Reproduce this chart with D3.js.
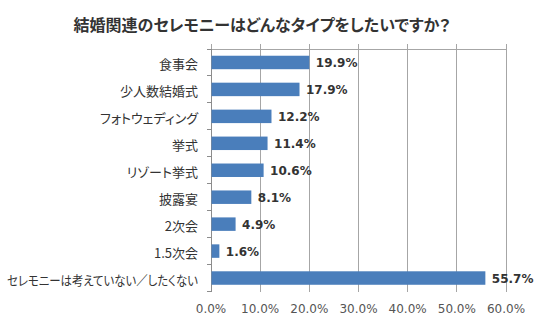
<!DOCTYPE html>
<html><head><meta charset="utf-8">
<script src="https://cdn.jsdelivr.net/npm/d3@7"></script>
<style>
body{margin:0;background:#fff;}
svg{display:block;}
.jp{font-family:"Noto Sans CJK JP","Noto Sans",sans-serif;font-feature-settings:"palt";}
</style>
</head><body>
<svg id="chart" width="536" height="322"></svg>
<script>
const categories = ["食事会","少人数結婚式","フォトウェディング","挙式","リゾート挙式","披露宴","2次会","1.5次会","セレモニーは考えていない／したくない"];
const values = [19.9,17.9,12.2,11.4,10.6,8.1,4.9,1.6,55.7];
const tickValues = [0,10,20,30,40,50,60];
const title = "結婚関連のセレモニーはどんなタイプをしたいですか？";

const svg = d3.select("#chart");
const x = d3.scaleLinear().domain([0,60]).range([211,506]);
const y = d3.scaleBand().domain(categories).range([49,291.5]).paddingInner(0.5).paddingOuter(0.25);

// title
svg.append("text").attr("class","jp")
  .attr("x",262).attr("y",31).attr("text-anchor","middle")
  .attr("font-size",16).attr("font-weight","bold").attr("fill","#333")
  .text(title);

// gridlines
svg.append("g").selectAll("line").data(tickValues).join("line")
  .attr("x1",d=>x(d)).attr("x2",d=>x(d))
  .attr("y1",44).attr("y2",291.5)
  .attr("stroke","#a6a6a6").attr("stroke-width",1).attr("shape-rendering","crispEdges");

// top axis line
svg.append("line").attr("x1",x(0)).attr("x2",x(60)).attr("y1",49).attr("y2",49)
  .attr("stroke","#a6a6a6").attr("shape-rendering","crispEdges");

// left axis
const bounds = d3.range(categories.length+1).map(i=>49 + i*(291.5-49)/categories.length);
svg.append("line").attr("x1",x(0)).attr("x2",x(0)).attr("y1",49).attr("y2",291.5)
  .attr("stroke","#8c8c8c").attr("shape-rendering","crispEdges");
svg.append("g").selectAll("line").data(bounds).join("line")
  .attr("x1",x(0)-4).attr("x2",x(0)).attr("y1",d=>d).attr("y2",d=>d)
  .attr("stroke","#8c8c8c").attr("shape-rendering","crispEdges");

// bars
svg.append("g").selectAll("rect").data(values).join("rect")
  .attr("x",x(0)+0.5)
  .attr("y",(d,i)=>y(categories[i]))
  .attr("width",d=>x(d)-x(0))
  .attr("height",y.bandwidth())
  .attr("fill","#4A7EBB");

// value labels
svg.append("g").selectAll("text").data(values).join("text")
  .attr("x",d=>x(d)+7)
  .attr("y",(d,i)=>y(categories[i])+y.bandwidth()/2+1)
  .attr("dominant-baseline","central")
  .attr("font-family","DejaVu Sans, Verdana, sans-serif")
  .attr("font-size",12).attr("font-weight","bold").attr("fill","#333")
  .text(d=>d.toFixed(1)+"%");

// category labels
const maxW = 191;
svg.append("g").selectAll("text").data(categories).join("text")
  .attr("class","jp")
  .attr("x",198)
  .attr("y",d=>y(d)+y.bandwidth()/2+1)
  .attr("text-anchor","end").attr("dominant-baseline","central")
  .attr("font-size",13).attr("fill","#333")
  .text(d=>d)
  .each(function(){
    if (this.getComputedTextLength() > maxW) {
      d3.select(this).attr("textLength",maxW).attr("lengthAdjust","spacingAndGlyphs");
    }
  });

// tick labels
svg.append("g").selectAll("text").data(tickValues).join("text")
  .attr("x",d=>x(d)).attr("y",313)
  .attr("text-anchor","middle")
  .attr("font-family","DejaVu Sans, Verdana, sans-serif")
  .attr("font-size",12).attr("fill","#555")
  .text(d=>d.toFixed(1)+"%");
</script>
</body></html>
